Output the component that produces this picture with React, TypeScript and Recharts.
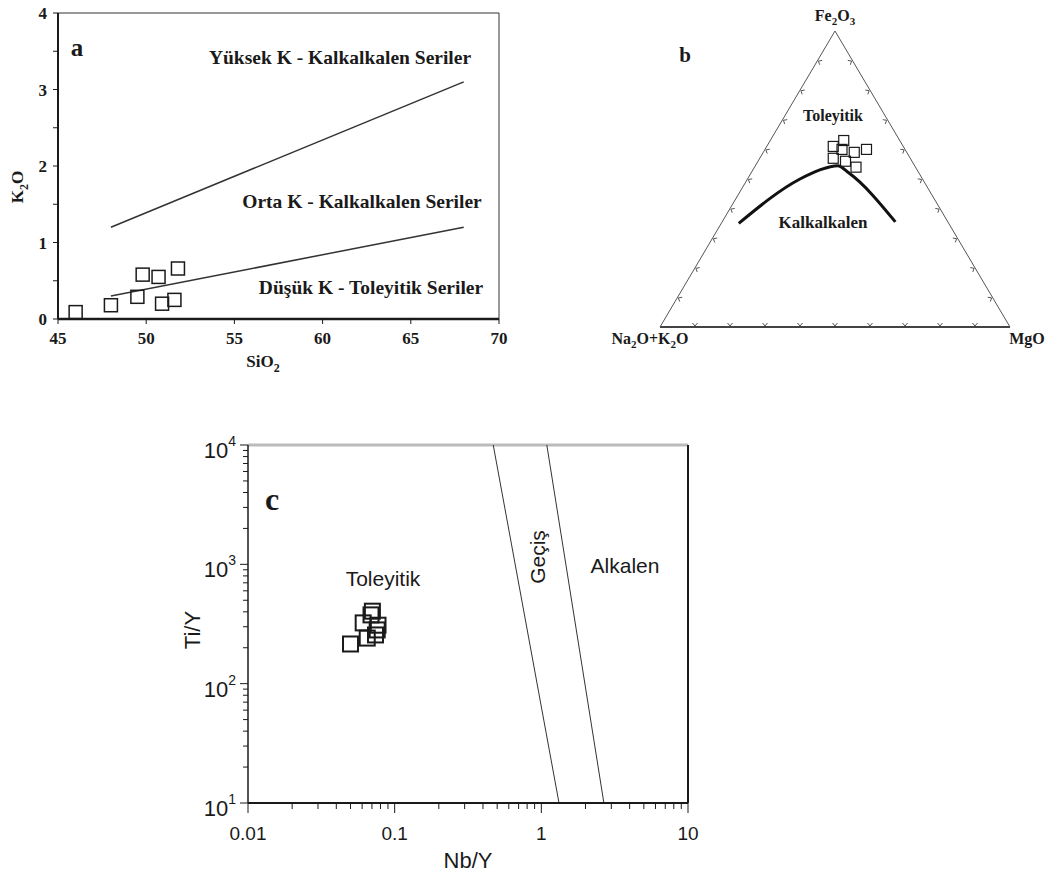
import { ScatterChart, Scatter, XAxis, YAxis, ReferenceLine } from 'recharts';

const SERIF = '"Liberation Serif", "Times New Roman", serif';
const SANS = '"Liberation Sans", Arial, sans-serif';
const INK = '#1a1a1a';

// ---- a: K2O vs SiO2 ----
const siO2Ticks = [45, 50, 55, 60, 65, 70];
const k2oTicks = [0, 0.5, 1, 1.5, 2, 2.5, 3, 3.5, 4];
const highKBoundary = [{ x: 48, y: 1.2 }, { x: 68, y: 3.1 }];
const lowKBoundary = [{ x: 48, y: 0.3 }, { x: 68, y: 1.2 }];
const sampleSiO2 = [46.0, 48.0, 49.5, 49.8, 50.7, 50.9, 51.6, 51.8];
const sampleK2O = [0.09, 0.18, 0.29, 0.58, 0.55, 0.2, 0.25, 0.66];

// ---- b: AFM ternary (Na2O+K2O / Fe2O3 / MgO) ----
const afmSampleAlk = [0.2, 0.16, 0.22, 0.18, 0.15, 0.11, 0.19, 0.17];
const afmSampleFe = [0.61, 0.63, 0.57, 0.6, 0.59, 0.6, 0.56, 0.54];
const afmSampleMg = [0.19, 0.21, 0.21, 0.22, 0.26, 0.29, 0.25, 0.29];
const afmLineAlk = [0.6, 0.35, 0.28, 0.22, 0.2, 0.15];
const afmLineFe = [0.35, 0.5, 0.53, 0.545, 0.52, 0.355];
const afmLineMg = [0.05, 0.15, 0.19, 0.235, 0.28, 0.495];
const ternaryTickFractions = [0.1, 0.2, 0.3, 0.4, 0.5, 0.6, 0.7, 0.8, 0.9];

// ---- c: Ti/Y vs Nb/Y ----
const nbYDecades = [0.01, 0.1, 1, 10];
const tiYDecades = [10, 100, 1000, 10000];
const transitionLeft = [{ x: 0.47, y: 10000 }, { x: 1.32, y: 10 }];
const transitionRight = [{ x: 1.09, y: 10000 }, { x: 2.67, y: 10 }];
const sampleNbY = [0.05, 0.061, 0.069, 0.0705, 0.074, 0.065, 0.076, 0.077];
const sampleTiY = [215, 323, 377, 405, 256, 241, 282, 309];

const SQ3 = Math.sqrt(3) / 2;
const toXY = (alk: number, fe: number, mg: number) => {
    const s = alk + fe + mg;
    return { x: (mg + fe / 2) / s, y: (fe / s) * SQ3 };
};

const k2oData = sampleSiO2.map((x, i) => ({ x, y: sampleK2O[i] }));
const afmSamples = afmSampleAlk.map((a, i) => toXY(a, afmSampleFe[i], afmSampleMg[i]));
const afmLine = afmLineAlk.map((a, i) => toXY(a, afmLineFe[i], afmLineMg[i]));
const triangle = [toXY(1, 0, 0), toXY(0, 0, 1), toXY(0, 1, 0), toXY(1, 0, 0)];
const ternaryTicks = [
    ...ternaryTickFractions.map((t) => ({ ...toXY(1 - t, 0, t), edge: 'base' })),
    ...ternaryTickFractions.map((t) => ({ ...toXY(1 - t, t, 0), edge: 'left' })),
    ...ternaryTickFractions.map((t) => ({ ...toXY(0, t, 1 - t), edge: 'right' })),
];
const tiNbData = sampleNbY.map((x, i) => ({ x, y: sampleTiY[i] }));

const logTicks = (decades: number[]) => {
    const out: number[] = [];
    decades.forEach((d, i) => {
        if (i === decades.length - 1) out.push(d);
        else for (let k = 1; k <= 9; k++) out.push(d * k);
    });
    return out;
};
const isDecade = (v: number) => Math.abs(Math.log10(v) - Math.round(Math.log10(v))) < 1e-9;

const square = (size: number, sw: number) => (props: any) => {
    const { cx, cy } = props;
    if (cx == null || cy == null) return <g />;
    return <rect x={cx - size / 2} y={cy - size / 2} width={size} height={size} fill="none" stroke={INK} strokeWidth={sw} />;
};
const noShape = () => <g />;

const chevron = (props: any) => {
    const { cx, cy, payload } = props;
    const dirs: Record<string, [number, number]> = { base: [0, -1], left: [0.866, 0.5], right: [-0.866, 0.5] };
    const [nx, ny] = dirs[payload.edge];
    const tx = -ny, ty = nx;
    const d = `M${cx + nx * 4 + tx * 2.5},${cy + ny * 4 + ty * 2.5} L${cx + nx * 1},${cy + ny * 1} L${cx + nx * 4 - tx * 2.5},${cy + ny * 4 - ty * 2.5}`;
    return <path d={d} fill="none" stroke="#555" strokeWidth={1} />;
};

const NbYTick = (props: any) => {
    const { x, y, payload } = props;
    const major = isDecade(payload.value);
    return (
        <g>
            <line x1={x} y1={y} x2={x} y2={y + (major ? 10 : 6)} stroke={INK} strokeWidth={1} />
            {major && (
                <text x={x} y={y + 37} textAnchor="middle" fontFamily={SANS} fontSize={19} fill={INK}>
                    {String(payload.value)}
                </text>
            )}
        </g>
    );
};

const TiYTick = (props: any) => {
    const { x, y, payload } = props;
    const major = isDecade(payload.value);
    return (
        <g>
            <line x1={x} y1={y} x2={x - (major ? 8 : 5)} y2={y} stroke={INK} strokeWidth={1} />
            {major && (
                <text x={x - 12} y={y + 13} textAnchor="end" fontFamily={SANS} fontSize={22} fill={INK}>
                    10
                    <tspan dy={-12} fontSize={14}>
                        {Math.round(Math.log10(payload.value))}
                    </tspan>
                </text>
            )}
        </g>
    );
};

const serifBold = { fontFamily: SERIF, fontWeight: 'bold' as const, fill: INK };

const PanelA = () => (
    <ScatterChart width={520} height={380} margin={{ top: 13, right: 21, bottom: 31, left: 18 }}>
        <XAxis
            type="number"
            dataKey="x"
            domain={[45, 70]}
            ticks={siO2Ticks}
            interval={0}
            tickSize={5}
            tickMargin={8}
            axisLine={{ stroke: INK, strokeWidth: 2.5 }}
            tickLine={{ stroke: INK }}
            tick={{ ...serifBold, fontSize: 17 }}
            height={30}
        />
        <YAxis
            type="number"
            dataKey="y"
            domain={[0, 4]}
            ticks={k2oTicks}
            interval={0}
            tickSize={5}
            tickMargin={6}
            tickFormatter={(v: number) => (Number.isInteger(v) ? String(v) : '')}
            axisLine={{ stroke: INK, strokeWidth: 2 }}
            tickLine={{ stroke: INK }}
            tick={{ ...serifBold, fontSize: 17 }}
            width={40}
        />
        <ReferenceLine y={4} stroke="#333" strokeWidth={1} />
        <ReferenceLine x={70} stroke="#333" strokeWidth={1} />
        <ReferenceLine segment={highKBoundary} stroke="#333" strokeWidth={1.5} />
        <ReferenceLine segment={lowKBoundary} stroke="#333" strokeWidth={1.5} />
        <Scatter data={k2oData} shape={square(13, 1.5)} isAnimationActive={false} />
        <text x={77} y={56} textAnchor="middle" {...serifBold} fontSize={25}>a</text>
        <text x={340} y={64} textAnchor="middle" {...serifBold} fontSize={19.5}>Yüksek K - Kalkalkalen Seriler</text>
        <text x={362} y={208} textAnchor="middle" {...serifBold} fontSize={19.5}>Orta K - Kalkalkalen Seriler</text>
        <text x={371} y={294} textAnchor="middle" {...serifBold} fontSize={19.5}>Düşük K - Toleyitik Seriler</text>
        <text x={263} y={367} textAnchor="middle" {...serifBold} fontSize={17}>
            SiO<tspan fontSize={12} dy={5}>2</tspan>
        </text>
        <text x={23} y={187} textAnchor="middle" {...serifBold} fontSize={17} transform="rotate(-90 23 187)">
            K<tspan fontSize={12} dy={5}>2</tspan>
            <tspan dy={-5}>O</tspan>
        </text>
    </ScatterChart>
);

const PanelB = () => (
    <ScatterChart width={465} height={360} margin={{ top: 31, right: 45, bottom: 33, left: 70 }}>
        <XAxis type="number" dataKey="x" domain={[0, 1]} hide />
        <YAxis type="number" dataKey="y" domain={[0, SQ3]} hide />
        <Scatter data={triangle} line={{ stroke: '#555', strokeWidth: 1 }} shape={noShape} isAnimationActive={false} />
        <ReferenceLine y={0} stroke="#333" strokeWidth={2} />
        <Scatter data={ternaryTicks} shape={chevron} isAnimationActive={false} />
        <Scatter
            data={afmLine}
            line={{ stroke: '#111', strokeWidth: 3 }}
            lineJointType="monotoneX"
            shape={noShape}
            isAnimationActive={false}
        />
        <Scatter data={afmSamples} shape={square(10, 1.2)} isAnimationActive={false} />
        <text x={245} y={21} textAnchor="middle" {...serifBold} fontSize={16}>
            Fe<tspan fontSize={11} dy={4}>2</tspan>
            <tspan dy={-4}>O</tspan>
            <tspan fontSize={11} dy={4}>3</tspan>
        </text>
        <text x={95} y={62} textAnchor="middle" {...serifBold} fontSize={21}>b</text>
        <text x={243} y={121} textAnchor="middle" {...serifBold} fontSize={16}>Toleyitik</text>
        <text x={233} y={228} textAnchor="middle" {...serifBold} fontSize={17}>Kalkalkalen</text>
        <text x={60} y={344} textAnchor="middle" {...serifBold} fontSize={16}>
            Na<tspan fontSize={11} dy={4}>2</tspan>
            <tspan dy={-4}>O+K</tspan>
            <tspan fontSize={11} dy={4}>2</tspan>
            <tspan dy={-4}>O</tspan>
        </text>
        <text x={437} y={344} textAnchor="middle" {...serifBold} fontSize={16}>MgO</text>
    </ScatterChart>
);

const PanelC = () => (
    <ScatterChart width={560} height={447} margin={{ top: 15, right: 22, bottom: 34, left: 38 }}>
        <XAxis
            type="number"
            dataKey="x"
            scale="log"
            domain={[0.01, 10]}
            allowDataOverflow
            ticks={logTicks(nbYDecades)}
            interval={0}
            tickSize={0}
            tickMargin={0}
            tickLine={false}
            axisLine={{ stroke: INK, strokeWidth: 2 }}
            tick={(p: any) => <NbYTick {...p} />}
            height={40}
        />
        <YAxis
            type="number"
            dataKey="y"
            scale="log"
            domain={[10, 10000]}
            allowDataOverflow
            ticks={logTicks(tiYDecades)}
            interval={0}
            tickSize={0}
            tickMargin={0}
            tickLine={false}
            axisLine={{ stroke: INK, strokeWidth: 1.5 }}
            tick={(p: any) => <TiYTick {...p} />}
            width={60}
        />
        <ReferenceLine y={10000} stroke="#bbb" strokeWidth={3} />
        <ReferenceLine x={10} stroke={INK} strokeWidth={2} />
        <ReferenceLine segment={transitionLeft} stroke="#333" strokeWidth={1} ifOverflow="visible" />
        <ReferenceLine segment={transitionRight} stroke="#333" strokeWidth={1} ifOverflow="visible" />
        <Scatter data={tiNbData} shape={square(15, 2)} isAnimationActive={false} />
        <text x={122} y={80} textAnchor="middle" {...serifBold} fontSize={32}>c</text>
        <text x={233} y={156} textAnchor="middle" fontFamily={SANS} fontSize={21} fill={INK}>Toleyitik</text>
        <text x={475} y={143} textAnchor="middle" fontFamily={SANS} fontSize={21} fill={INK}>Alkalen</text>
        <text x={395} y={127} textAnchor="middle" fontFamily={SANS} fontSize={21} fill={INK} transform="rotate(-90 395 127)">
            Geçiş
        </text>
        <text x={50} y={200} textAnchor="middle" fontFamily={SANS} fontSize={22} fill={INK} transform="rotate(-90 50 200)">
            Ti/Y
        </text>
        <text x={318} y={438} textAnchor="middle" fontFamily={SANS} fontSize={22} fill={INK}>Nb/Y</text>
    </ScatterChart>
);

export default function App() {
    return (
        <div style={{ position: 'fixed', left: 0, top: 0, width: 1055, height: 877, background: '#fff' }}>
            <div style={{ position: 'absolute', left: 0, top: 0 }}>
                <PanelA />
            </div>
            <div style={{ position: 'absolute', left: 590, top: 0 }}>
                <PanelB />
            </div>
            <div style={{ position: 'absolute', left: 150, top: 430 }}>
                <PanelC />
            </div>
        </div>
    );
}
